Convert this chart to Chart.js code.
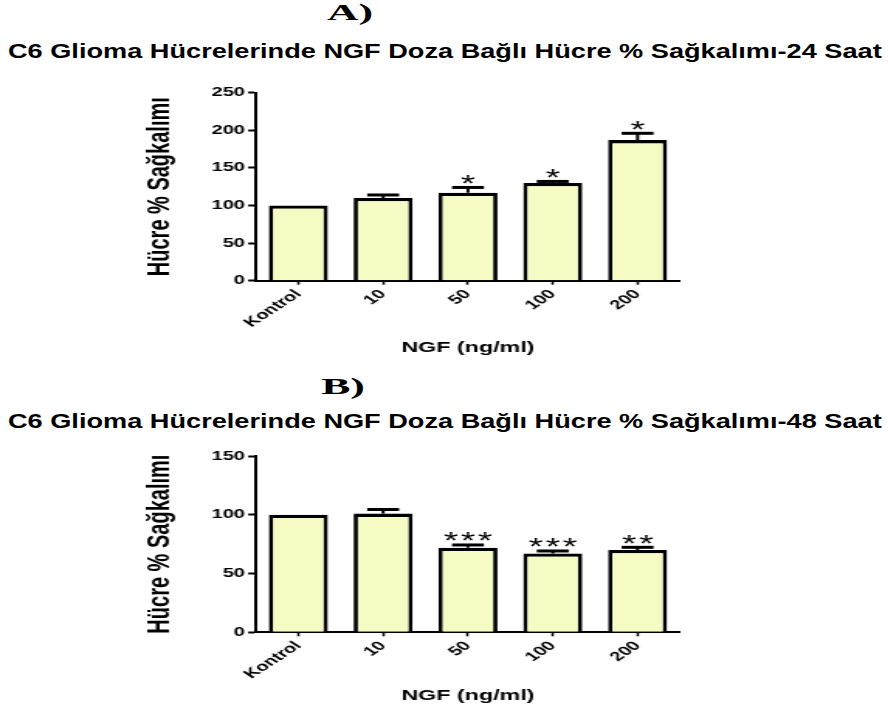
<!DOCTYPE html>
<html>
<head>
<meta charset="utf-8">
<script src="https://cdn.jsdelivr.net/npm/chart.js@4.4.1/dist/chart.umd.min.js"></script>
<style>
  body { margin:0; width:888px; height:711px; background:#fff; position:relative; overflow:hidden; font-family:'Liberation Sans', Arial, sans-serif; color:#000; }
  .panel { position:absolute; width:200px; text-align:center; font-family:'Liberation Serif','Times New Roman',serif; font-weight:bold; font-size:23px; line-height:23px; transform:scaleX(1.9); transform-origin:50% 0; }
  .title { position:absolute; left:8px; font-weight:bold; font-size:21px; line-height:21px; white-space:nowrap; transform:scaleX(1.293); transform-origin:0 0; }
  .plot { position:absolute; left:0; width:573px; transform:scaleX(1.55); transform-origin:0 0; }
</style>
</head>
<body>
<div class="panel" style="left:250px; top:1px;">A)</div>
<div class="title" style="top:40px;">C6 Glioma Hücrelerinde NGF Doza Bağlı Hücre % Sağkalımı-24 Saat</div>
<div class="plot" style="top:60px; height:300px;"><canvas id="chart24" width="573" height="300"></canvas></div>

<div class="panel" style="left:243px; top:375px;">B)</div>
<div class="title" style="top:410px;">C6 Glioma Hücrelerinde NGF Doza Bağlı Hücre % Sağkalımı-48 Saat</div>
<div class="plot" style="top:420px; height:291px;"><canvas id="chart48" width="573" height="291"></canvas></div>

<script>
// NGF doses on the x axis
const doses = ['Kontrol', '10', '50', '100', '200'];

// 24 h survival (%), error (SEM) and significance marks
const survival24 = [100, 110, 117, 130, 187];
const sem24 = [0, 4, 7, 2, 9];
const sig24 = ['', '', '*', '*', '*'];

// 48 h survival (%), error (SEM) and significance marks
const survival48 = [100, 101, 72, 67, 70];
const sem48 = [0, 3.5, 2.3, 2.2, 2.3];
const sig48 = ['', '', '***', '***', '**'];

// y axis ranges
const yMax24 = 250;
const yMax48 = 150;
const yStep = 50;

Chart.defaults.font.family = "'Liberation Sans', Arial, sans-serif";
Chart.defaults.color = '#000';

function errorBarPlugin(values, errors, marks) {
  return {
    id: 'errorBars',
    afterDatasetsDraw(chart) {
      const ctx = chart.ctx;
      const y = chart.scales.y;
      const meta = chart.getDatasetMeta(0);
      ctx.save();
      ctx.strokeStyle = '#000';
      ctx.fillStyle = '#000';
      meta.data.forEach((bar, i) => {
        const top = y.getPixelForValue(values[i] + errors[i]);
        if (errors[i] > 0) {
          const half = bar.width * 0.27;
          ctx.lineWidth = 2;
          ctx.beginPath();
          ctx.moveTo(bar.x, bar.y);
          ctx.lineTo(bar.x, top);
          ctx.stroke();
          ctx.lineWidth = 3;
          ctx.beginPath();
          ctx.moveTo(bar.x - half, top);
          ctx.lineTo(bar.x + half, top);
          ctx.stroke();
        }
        const mark = marks[i];
        if (mark) {
          ctx.font = "24px 'Liberation Sans', Arial, sans-serif";
          ctx.textAlign = 'center';
          ctx.textBaseline = 'alphabetic';
          const m = ctx.measureText('*');
          const centerY = top - 8;
          const base = centerY + (m.actualBoundingBoxAscent - m.actualBoundingBoxDescent) / 2;
          const n = mark.length;
          for (let k = 0; k < n; k++) {
            ctx.fillText('*', bar.x + (k - (n - 1) / 2) * 11, base);
          }
        }
      });
      ctx.restore();
    }
  };
}

function survivalChart(id, values, errors, marks, yMax, pad, xHeight, xTitlePad) {
  const ctx = document.getElementById(id).getContext('2d');
  return new Chart(ctx, {
    type: 'bar',
    data: {
      labels: doses,
      datasets: [{
        data: values,
        backgroundColor: '#f6fbc4',
        borderColor: '#000',
        borderWidth: { top: 3.3, left: 2.8, right: 2.8, bottom: 0 },
        borderSkipped: 'start',
        barPercentage: 0.696,
        categoryPercentage: 1
      }]
    },
    options: {
      responsive: false,
      animation: false,
      layout: { padding: pad },
      plugins: {
        legend: { display: false },
        tooltip: { enabled: false }
      },
      scales: {
        x: {
          offset: true,
          grid: { drawOnChartArea: false, offset: false, tickLength: 4, tickWidth: 1.5, tickColor: '#000' },
          border: { color: '#000', width: 2 },
          ticks: { minRotation: 45, maxRotation: 45, padding: 2, color: '#000', font: { size: 13, weight: 'bold' } },
          title: { display: true, text: 'NGF (ng/ml)', color: '#000', font: { size: 15, weight: 'bold' }, padding: { top: 0, bottom: xTitlePad } },
          afterFit: s => { s.height = xHeight; }
        },
        y: {
          min: 0,
          max: yMax,
          grid: { drawOnChartArea: false, tickLength: 5, tickWidth: 2, tickColor: '#000' },
          border: { color: '#000', width: 2 },
          ticks: { stepSize: yStep, padding: 2, color: '#000', font: { size: 13, weight: 'bold' } },
          title: { display: true, text: 'Hücre % Sağkalımı', color: '#000', font: { size: 20, weight: 'bold' }, padding: { top: 0, bottom: 0 } },
          afterFit: s => { s.width = 73.9; }
        }
      }
    },
    plugins: [errorBarPlugin(values, errors, marks)]
  });
}

survivalChart('chart24', survival24, sem24, sig24, yMax24,
  { left: 91.2, top: 32.7, right: 134.3, bottom: 0 }, 79.3, 3.5);
survivalChart('chart48', survival48, sem48, sig48, yMax48,
  { left: 91.2, top: 36, right: 134.3, bottom: 0 }, 78.7, 6.5);
</script>
</body>
</html>
